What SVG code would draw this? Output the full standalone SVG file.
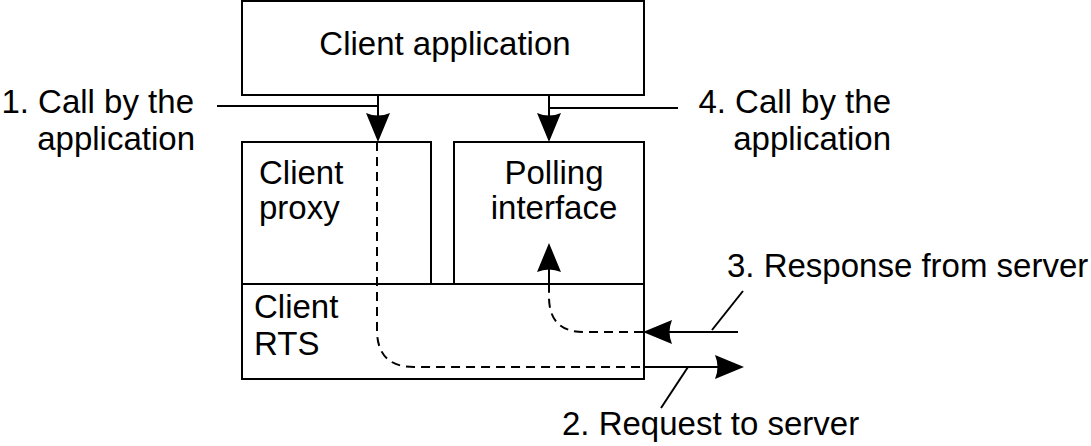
<svg xmlns="http://www.w3.org/2000/svg" width="1091" height="446" viewBox="0 0 1091 446">
<style>
.box{fill:#fff;stroke:#000;stroke-width:2}
.ln{fill:none;stroke:#000;stroke-width:2}
.dash{fill:none;stroke:#000;stroke-width:2;stroke-dasharray:9 6}
.ah{fill:#000;stroke:none}
text{font-family:"Liberation Sans",Arial,sans-serif;font-size:33px;fill:#000}
</style>
<rect width="1091" height="446" fill="#fff"/>
<g id="client-application">
<rect class="box" x="242" y="1" width="402" height="94"/>
<text x="445" y="55" text-anchor="middle">Client application</text>
</g>
<g id="client-proxy">
<rect class="box" x="242" y="142" width="189" height="142"/>
<text x="259" y="184">Client</text>
<text x="259" y="219">proxy</text>
</g>
<g id="polling-interface">
<rect class="box" x="454" y="142" width="190" height="142"/>
<text x="554" y="184" text-anchor="middle">Polling</text>
<text x="554" y="219" text-anchor="middle">interface</text>
</g>
<g id="client-rts">
<rect class="box" x="242" y="284" width="402" height="95"/>
<text x="254" y="318">Client</text>
<text x="254" y="355">RTS</text>
</g>
<g id="connectors">
<!-- call 1 -->
<path class="ln" d="M378 95 V116 M217 106 H378"/>
<path class="ah" d="M378 142 L366 113 Q378 118 390 113 Z"/>
<!-- call 4 -->
<path class="ln" d="M549 95 V116 M549 108 H678"/>
<path class="ah" d="M549 142 L537 113 Q549 118 561 113 Z"/>
<!-- request -->
<path class="dash" d="M377 142 V330 Q377 367 414 367 H643"/>
<path class="ln" d="M643 367 H718"/>
<path class="ah" d="M744 367 L715 355 Q720 367 715 379 Z"/>
<path class="ln" d="M688 367 L661 408"/>
<!-- response -->
<path class="ln" d="M738 332 H668"/>
<path class="ah" d="M643 332 L672 320 Q667 332 672 344 Z"/>
<path class="dash" d="M643 332 H584 Q549 332 549 297 V284"/>
<path class="ln" d="M549 284 V268"/>
<path class="ah" d="M549 243 L537 272 Q549 267 561 272 Z"/>
<path class="ln" d="M712 330 L743 291"/>
</g>
<g id="labels">
<text x="194" y="113" text-anchor="end">1. Call by the</text>
<text x="195" y="150" text-anchor="end">application</text>
<text x="891" y="113" text-anchor="end">4. Call by the</text>
<text x="891" y="150" text-anchor="end">application</text>
<text x="727" y="277">3. Response from server</text>
<text x="562" y="435">2. Request to server</text>
</g>
</svg>
